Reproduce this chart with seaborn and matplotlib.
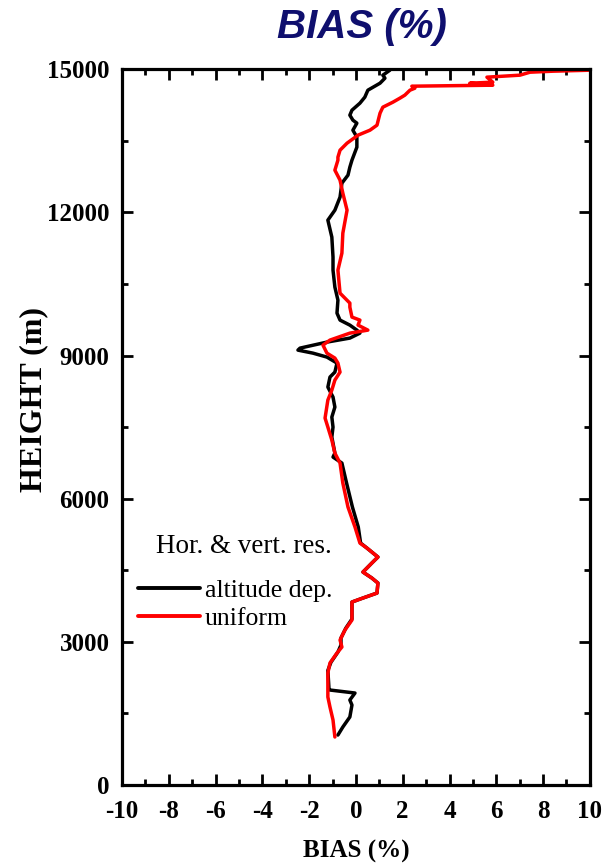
import numpy as np
import pandas as pd
import seaborn as sns
import matplotlib
matplotlib.use("Agg")
import matplotlib.pyplot as plt
from matplotlib.ticker import MultipleLocator
from matplotlib.lines import Line2D

# Bias profiles (%) versus height (m)
height_alt = [1047, 1215, 1425, 1676, 1781, 1927, 1990, 2000, 2400, 2570, 2786, 2933,
              3080, 3289, 3478, 3520, 3834, 3918, 4022, 4232, 4337, 4462, 4651, 4777,
              4965, 5070, 5405, 5824, 6327, 6746, 6872, 6955, 7291, 7500, 7710, 7919,
              8129, 8338, 8548, 8652, 8841, 8967, 9050, 9113, 9155, 9281, 9365, 9469,
              9532, 9637, 9742, 9888, 10161, 10433, 10789, 11062, 11481, 11837, 12046,
              12319, 12612, 12780, 12947, 13094, 13366, 13576, 13722, 13869, 13932,
              14037, 14141, 14288, 14414, 14560, 14707, 14812, 14875, 14979]
bias_alt = [-0.77, -0.56, -0.26, -0.17, -0.26, -0.04, -1.11, -1.15, -1.20, -1.07, -0.77, -0.64,
            -0.64, -0.43, -0.17, -0.17, -0.17, 0.30, 0.90, 0.94, 0.68, 0.30, 0.68, 0.94,
            0.47, 0.20, 0.10, -0.15, -0.40, -0.60, -0.98, -0.90, -1.03, -0.98, -1.03, -0.90,
            -0.98, -1.20, -1.11, -0.90, -0.81, -1.24, -1.84, -2.48, -2.39, -1.24, -0.26, 0.17,
            0.04, -0.26, -0.68, -0.81, -0.77, -0.90, -0.98, -0.98, -1.03, -1.20, -0.90,
            -0.68, -0.60, -0.34, -0.26, -0.17, 0.04, 0.04, -0.13, 0.04, -0.13,
            -0.26, -0.17, 0.17, 0.38, 0.51, 1.03, 1.24, 1.15, 1.45]

height_uni = [1006, 1362, 1634, 1844, 2346, 2556, 2765, 2891, 3038, 3247, 3457, 3520,
              3834, 3918, 4022, 4232, 4337, 4462, 4651, 4777, 4965, 5070, 5405, 5824,
              6327, 6746, 6955, 7228, 7500, 7689, 8066, 8275, 8485, 8652, 8841, 8946,
              9050, 9218, 9323, 9469, 9532, 9637, 9742, 9805, 10014, 10098, 10307, 10789,
              11145, 11564, 12046, 12402, 12675, 12884, 13094, 13157, 13303, 13450, 13618,
              13722, 13827, 14078, 14204, 14309, 14393, 14456, 14560, 14602, 14644, 14665,
              14707, 14728, 14833, 14875, 14937, 14958, 14979]
bias_uni = [-0.90, -0.98, -1.11, -1.20, -1.20, -1.11, -0.81, -0.60, -0.68, -0.47, -0.17, -0.17,
            -0.17, 0.30, 0.90, 0.94, 0.68, 0.30, 0.68, 0.94, 0.47, 0.17, -0.04, -0.34,
            -0.56, -0.68, -0.90, -1.03, -1.20, -1.32, -1.20, -1.03, -0.90, -0.68, -0.77, -0.90,
            -1.24, -1.41, -1.11, -0.26, 0.51, 0.09, 0.17, -0.17, -0.26, -0.26, -0.68, -0.77,
            -0.60, -0.56, -0.38, -0.56, -0.68, -0.90, -0.77, -0.77, -0.68, -0.38, 0.09,
            0.60, 0.90, 1.03, 1.15, 1.58, 1.88, 2.09, 2.31, 2.52, 2.39, 5.85,
            4.87, 5.85, 5.60, 7.01, 7.44, 8.42, 10.0]

series_labels = ["altitude dep.", "uniform"]
series_colors = ["black", "red"]
legend_title = "Hor. & vert. res."

df_alt = pd.DataFrame({"bias": bias_alt, "height": height_alt})
df_uni = pd.DataFrame({"bias": bias_uni, "height": height_uni})

sns.set_style("ticks")
plt.rcParams["font.family"] = ["Liberation Serif", "DejaVu Serif"]
plt.rcParams["axes.unicode_minus"] = False
for key in ("text.color", "axes.labelcolor", "xtick.color", "ytick.color"):
    plt.rcParams[key] = "black"

fig = plt.figure(figsize=(6.1, 8.65), dpi=100)
ax = fig.add_axes([0.2, 0.0925, 0.767, 0.8275])

sns.lineplot(data=df_alt, x="bias", y="height", sort=False, estimator=None,
             color=series_colors[0], linewidth=2.5, ax=ax)
sns.lineplot(data=df_uni, x="bias", y="height", sort=False, estimator=None,
             color=series_colors[1], linewidth=2.5, ax=ax)

ax.set_xlim(-10, 10)
ax.set_ylim(0, 15000)
ax.xaxis.set_major_locator(MultipleLocator(2))
ax.xaxis.set_minor_locator(MultipleLocator(1))
ax.yaxis.set_major_locator(MultipleLocator(3000))
ax.yaxis.set_minor_locator(MultipleLocator(1500))

for s in ax.spines.values():
    s.set_visible(True)
    s.set_linewidth(2.3)
    s.set_color("black")

ax.tick_params(which="both", direction="in", top=True, right=True,
               width=2.0, colors="black")
ax.tick_params(which="major", length=8)
ax.tick_params(which="minor", length=4.5)
ax.tick_params(axis="x", which="major", pad=11)
ax.tick_params(axis="y", which="major", pad=9)
ax.tick_params(axis="both", labelsize=18)
for lab in ax.get_xticklabels() + ax.get_yticklabels():
    lab.set_fontweight("bold")

ax.set_xlabel("BIAS (%)", fontsize=18, fontweight="bold", labelpad=12)
ax.set_ylabel("HEIGHT (m)", fontsize=23, fontweight="bold")
ax.yaxis.set_label_coords(-0.158, 0.538)

fig.text(0.593, 0.969, "BIAS (%)", ha="center", va="center", fontsize=29,
         fontweight="bold", style="italic", color="#0f0f6e",
         family=["Liberation Sans", "DejaVu Sans"])

# Legend heading drawn as its own text, entries below it
ax.text(0.261, 0.333, legend_title, transform=ax.transAxes, ha="center",
        va="center", fontsize=19.5)
handles = [Line2D([0], [0], color=c, lw=2.8) for c in series_colors]
leg = ax.legend(handles, series_labels,
                loc="upper left", bbox_to_anchor=(0.034, 0.288),
                frameon=False, fontsize=18.5,
                handlelength=2.4, handletextpad=0.2, labelspacing=0.22,
                borderpad=0, borderaxespad=0)

fig.savefig("out.png", dpi=100)
